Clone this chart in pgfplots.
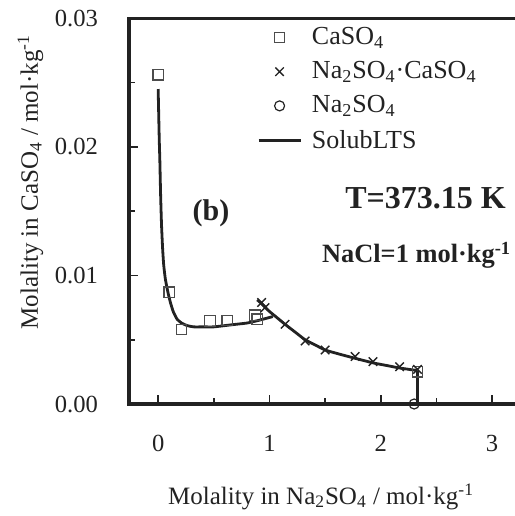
\documentclass[border=0pt]{standalone}
\usepackage{fontspec}
\setmainfont{Liberation Serif}
\usepackage{pgfplots}
\pgfplotsset{compat=1.18}
\definecolor{ink}{HTML}{222222}
\pgfplotsset{markleg/.style={legend image code/.code={\draw[##1] plot coordinates {(10.5pt,0pt)};}}}
\begin{document}
\begin{tikzpicture}
\begin{axis}[
  at={(0pt,0pt)}, anchor=south west,
  scale only axis, width=196pt, height=192.85pt,
  xmin=-0.262, xmax=3.260, ymin=0, ymax=0.03,
  axis line style={line width=1.8pt, color=ink},
  xtick={0,1,2,3}, minor xtick={0.5,1.5,2.5},
  ytick={0,0.01,0.02,0.03}, minor ytick={0.005,0.015,0.025},
  xtick pos=left, ytick pos=left, tick align=inside,
  major tick length=4.5pt, minor tick length=3pt,
  every tick/.style={line width=0.9pt, ink},
  scaled y ticks=false,
  yticklabel style={/pgf/number format/fixed, /pgf/number format/fixed zerofill, /pgf/number format/precision=2},
  /pgf/number format/assume math mode=true,
  tick label style={font=\fontsize{12.3}{14}\selectfont, text=ink},
  xticklabel shift=12pt, yticklabel shift=12pt,
  xlabel={Molality in Na\textsubscript{2}SO\textsubscript{4} / mol·kg\textsuperscript{-1}},
  ylabel={Molality in CaSO\textsubscript{4} / mol·kg\textsuperscript{-1}},
  xlabel style={at={(rel axis cs:0.49,-0.241)}, anchor=center, font=\fontsize{12.5}{14}\selectfont, text=ink},
  ylabel style={at={(rel axis cs:-0.2513,0.575)}, anchor=center, font=\fontsize{12.5}{14}\selectfont, text=ink},
  legend style={at={(rel axis cs:0.326,0.988)}, anchor=north west, draw=none, fill=none,
    inner sep=0pt, font=\fontsize{13}{15}\selectfont, text=ink, row sep=3pt, column sep=3pt,
    cells={anchor=west}},
  legend image code/.code={\draw[#1] (0pt,0pt) -- (21pt,0pt);},
]
\addplot[only marks, mark=square, mark size=2.6pt, mark options={line width=0.6pt, draw=black!70, fill=none}, markleg]
  coordinates {(0,0.0256) (0.10,0.0087) (0.21,0.0058) (0.465,0.00645) (0.62,0.0065) (0.87,0.0069) (0.89,0.0066) (2.33,0.0025)};
\addlegendentry{CaSO\textsubscript{4}}
\addplot[only marks, mark=x, mark size=3pt, mark options={line width=0.7pt, draw=ink}, markleg]
  coordinates {(0.93,0.0079) (0.96,0.0075) (1.14,0.0062) (1.32,0.0049) (1.50,0.0042) (1.77,0.0037) (1.93,0.0033) (2.17,0.0029) (2.33,0.0027)};
\addlegendentry{Na\textsubscript{2}SO\textsubscript{4}·CaSO\textsubscript{4}}
\addplot[only marks, mark=o, mark size=2.5pt, mark options={line width=0.6pt, draw=ink}, markleg]
  coordinates {(2.30,0.0)};
\addlegendentry{Na\textsubscript{2}SO\textsubscript{4}}
\addplot[ink, line width=1.4pt, smooth, tension=0.3] coordinates {
 (0,0.0245) (0.005,0.0225) (0.01,0.0205) (0.015,0.0190) (0.022,0.0163) (0.03,0.0140)
 (0.04,0.0121) (0.05,0.0108) (0.065,0.0097) (0.09,0.0086) (0.11,0.0079) (0.135,0.0072)
 (0.17,0.0066) (0.21,0.0063) (0.26,0.0061) (0.32,0.0060) (0.40,0.0060) (0.50,0.0060)
 (0.60,0.0061) (0.70,0.0062) (0.80,0.0063) (0.90,0.0065) (1.03,0.0068)};
\addlegendentry{SolubLTS}
\addplot[ink, line width=1.4pt, smooth, tension=0.3, forget plot] coordinates {
 (0.89,0.0081) (0.93,0.0078) (1.0,0.0072) (1.07,0.0067) (1.14,0.0062) (1.23,0.0056)
 (1.32,0.0050) (1.41,0.0046) (1.50,0.0042) (1.62,0.0039) (1.75,0.0036) (1.93,0.0032)
 (2.05,0.0030) (2.17,0.0028) (2.33,0.0026)};
\addplot[ink, line width=1.4pt, forget plot] coordinates {(2.33,0.0026) (2.33,0)};
\node[anchor=center, font=\bfseries\fontsize{15}{17}\selectfont, text=ink] at (axis cs:0.474,0.01486) {(b)};
\node[anchor=base west, inner sep=0pt, font=\bfseries\fontsize{16}{18}\selectfont, text=ink] at (axis cs:1.678,0.01522) {T=373.15 K};
\node[anchor=base west, inner sep=0pt, font=\bfseries\fontsize{13.2}{15}\selectfont, text=ink] at (axis cs:1.469,0.01099) {NaCl=1 mol·kg\textsuperscript{-1}};
\end{axis}
\fill[ink] (-0.9pt,191.95pt) rectangle (194pt,193.75pt);
\pgfresetboundingbox
\path[use as bounding box] (-64.5pt,-56pt) rectangle (193pt,202pt);
\end{tikzpicture}
\end{document}
